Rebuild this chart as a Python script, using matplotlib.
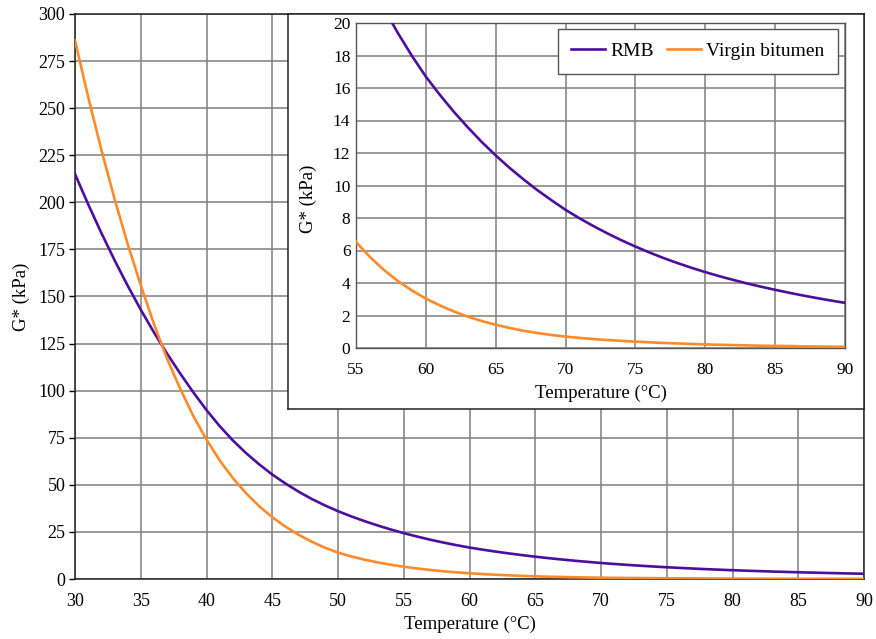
import matplotlib.pyplot as plt

plt.rcParams['font.family'] = 'Liberation Serif'

# Complex shear modulus G* (kPa) vs temperature, 1 °C steps
temp = list(range(30, 91))
g_rmb = [215, 199, 183.8, 169.4, 155.8, 143, 131, 119.7, 109.1, 99.1,     # 30-39
         89.7, 81.2, 73.6, 66.9, 60.9, 55.5, 50.7, 46.4, 42.5, 39.1,      # 40-49
         36.0, 33.27, 30.76, 28.45, 26.32, 24.36, 22.56, 20.9, 19.38, 17.98,  # 50-59
         16.7, 15.58, 14.54, 13.58, 12.68, 11.85, 11.08, 10.37, 9.7, 9.09,    # 60-69
         8.5, 7.98, 7.5, 7.05, 6.63, 6.24, 5.88, 5.54, 5.23, 4.94,        # 70-79
         4.67, 4.42, 4.19, 3.97, 3.77, 3.58, 3.4, 3.23, 3.07, 2.92,       # 80-89
         2.78]
g_virgin = [286, 256, 228, 202, 178, 156, 135.5, 117, 101, 86.5,          # 30-39
            74, 63, 53.6, 45.6, 38.7, 32.8, 27.8, 23.5, 19.8, 16.65,      # 40-49
            14.0, 12.0, 10.3, 8.85, 7.6, 6.52, 5.6, 4.8, 4.12, 3.54,      # 50-59
            3.04, 2.62, 2.25, 1.93, 1.66, 1.43, 1.23, 1.06, 0.92, 0.8,    # 60-69
            0.7, 0.62, 0.55, 0.49, 0.44, 0.39, 0.35, 0.31, 0.28, 0.25,    # 70-79
            0.22, 0.2, 0.18, 0.16, 0.14, 0.13, 0.12, 0.1, 0.09, 0.08,     # 80-89
            0.07]

main_xticks = list(range(30, 95, 5))
main_yticks = list(range(0, 325, 25))
inset_xticks = list(range(55, 95, 5))
inset_yticks = list(range(0, 22, 2))

c_rmb = '#4b0e9e'
c_virgin = '#ff8a2b'
c_grid = '#7f7f7f'

W, H = 876, 639
fig = plt.figure(figsize=(W / 100, H / 100), dpi=100)


def px_rect(x0, y0, x1, y1):
    # pixel box (top-left origin) -> figure fraction rect
    return [x0 / W, 1 - y1 / H, (x1 - x0) / W, (y1 - y0) / H]


# ---- main axes ----
ax = fig.add_axes(px_rect(75, 14, 864, 579))
ax.plot(temp, g_rmb, color=c_rmb, lw=1.9, zorder=3)
ax.plot(temp, g_virgin, color=c_virgin, lw=1.9, zorder=3)
ax.set_xlim(30, 90)
ax.set_ylim(0, 300)
ax.set_xticks(main_xticks)
ax.set_yticks(main_yticks)
ax.grid(True, color=c_grid, lw=1.1)
ax.set_axisbelow(True)
ax.tick_params(axis='x', length=0, pad=10, labelsize=13)
ax.tick_params(axis='y', length=4, width=1, pad=3, labelsize=13)
for s in ax.spines.values():
    s.set_color('#222222')
    s.set_linewidth(1.1)
ax.set_xlabel('Temperature (°C)', fontsize=13.5, labelpad=4)
ax.set_ylabel('G* (kPa)', fontsize=13.5, labelpad=6)

# ---- white panel behind the inset ----
box = fig.add_axes(px_rect(288, 14, 864, 409))
box.set_xticks([])
box.set_yticks([])
box.set_facecolor('white')
for s in box.spines.values():
    s.set_color('#222222')
    s.set_linewidth(1.1)

# ---- inset axes (high temperature zoom) ----
ins = fig.add_axes(px_rect(356, 23, 845, 348))
ins.plot(temp, g_rmb, color=c_rmb, lw=1.9, label='RMB', zorder=3)
ins.plot(temp, g_virgin, color=c_virgin, lw=1.9, label='Virgin bitumen', zorder=3)
ins.set_xlim(55, 90)
ins.set_ylim(0, 20)
ins.set_xticks(inset_xticks)
ins.set_yticks(inset_yticks)
ins.grid(True, color=c_grid, lw=1.1)
ins.set_axisbelow(True)
ins.tick_params(length=0, labelsize=12.5)
ins.tick_params(axis='x', pad=10)
ins.tick_params(axis='y', pad=4)
for s in ins.spines.values():
    s.set_color('#555555')
    s.set_linewidth(1.0)
ins.set_xlabel('Temperature (°C)', fontsize=13.5, labelpad=5)
ins.set_ylabel('G* (kPa)', fontsize=13.5)
ins.yaxis.set_label_coords(-0.08, 0.46)

leg = ins.legend(loc='upper right', ncol=2, fontsize=14, frameon=True,
                 fancybox=False, edgecolor='#555555', framealpha=1,
                 handlelength=1.75, handletextpad=0.25, columnspacing=0.7,
                 borderpad=0.7, borderaxespad=0,
                 bbox_to_anchor=(1 - 7 / 489, 1 - 6 / 325))
leg.get_frame().set_linewidth(1.0)

fig.savefig('out.png', dpi=100, facecolor='white')
